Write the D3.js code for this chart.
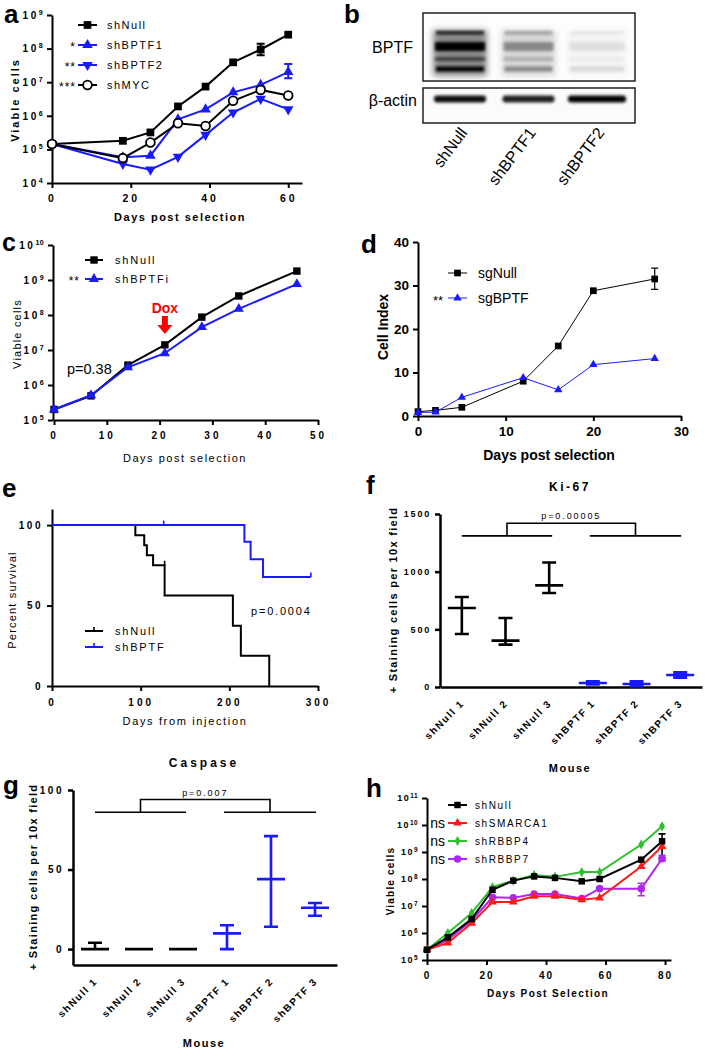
<!DOCTYPE html>
<html><head><meta charset="utf-8">
<script src="https://cdn.jsdelivr.net/npm/d3@7/dist/d3.min.js"></script>
<style>body{margin:0;background:#fff} svg{display:block}</style>
</head><body>
<svg id="fig" width="706" height="1050" font-family="'Liberation Sans', Arial, sans-serif"></svg>
<script>
// ================= DATA =================
// Panel a
const aDays = [0,18,25,32,39,46,53,60];
const aNames = ["shNull","shBPTF1","shBPTF2","shMYC"];
const aStars = ["","*","**","***"];
const aShNull  = [1.45e5,1.8e5,3.2e5,1.9e6,7.4e6,3.9e7,9.4e7,2.6e8];
const aShBPTF1 = [1.45e5,5.8e4,6.5e4,7.8e5,1.55e6,5e6,8.3e6,2.0e7];
const aShBPTF2 = [1.45e5,3.7e4,2.5e4,6e4,2.7e5,1.25e6,3.2e6,1.55e6];
const aShMYC   = [1.45e5,5.5e4,1.6e5,6e5,5e5,2.8e6,5.9e6,4e6];
const aErrNull  = [[53,6.3e7,1.4e8]];
const aErrBPTF1 = [[60,1.3e7,3.5e7]];
const aXTicks = [0,20,40,60];
const aYTicks = [1e4,1e5,1e6,1e7,1e8,1e9];
// Panel b
const bLanes = ["shNull","shBPTF1","shBPTF2"];
const bBPTFLevel = [1, 0.33, 0.07];
const bActinLevel = [0.95, 0.88, 1];
// Panel c
const cDays = [0,7,14,21,28,35,46];
const cNames = ["shNull","shBPTFi"];
const cShNull  = [2e5,4.9e5,3.7e6,1.4e7,8.7e7,3.5e8,1.8e9];
const cShBPTFi = [2e5,5.1e5,3.2e6,8.1e6,4.5e7,1.5e8,7.6e8];
const cXTicks = [0,10,20,30,40,50];
const cYTicks = [1e5,1e6,1e7,1e8,1e9,1e10];
const cDoxDay = 21;
// Panel d
const dDays = [0,2,5,12,16,20,27];
const dNames = ["sgNull","sgBPTF"];
const dSgNull = [1.0,1.3,2.0,8.0,16.1,28.8,31.5];
const dSgBPTF = [0.8,0.9,4.3,8.8,6.0,11.8,13.2];
const dErrNull = [[27,29.1,34.0]];
const dXTicks = [0,10,20,30];
const dYTicks = [0,10,20,30,40];
// Panel e
const eNames = ["shNull","shBPTF"];
const eNullT   = [0,94,104,107,114,127,204,213,245];
const eNullP   = [100,93.75,87.5,81.25,75,56.25,37.5,18.75,0];
const eNullCensor = [[127,75]];
const eBPTFT   = [0,217,224,238,292];
const eBPTFP   = [100,89.6,78.7,67.7,67.7];
const eBPTFCensor = [[126,100],[292,67.7]];
const eXTicks = [0,100,200,300];
const eYTicks = [0,50,100];
// Panel f / g
const mice = ["shNull 1","shNull 2","shNull 3","shBPTF 1","shBPTF 2","shBPTF 3"];
const fMean = [685,402,881,35,26,104];
const fHi   = [780,598,1079,49,49,127];
const fLo   = [460,367,815,23,6,81];
const fYTicks = [0,500,1000,1500];
const fBracket = [1310,1420];
const gMean = [0,0,0,9.9,44,26];
const gHi   = [4,0,0,15,71,29];
const gLo   = [0,0,0,0,14,21];
const gYTicks = [0,50,100];
const gBracket = [86,94];
// Panel h
const hDays = [0,7,15,22,29,36,43,52,58,72,79];
const hNames = ["shNull","shSMARCA1","shRBBP4","shRBBP7"];
const hShNull   = [2.4e5,6.9e5,3.3e6,4e7,8.7e7,1.25e8,1.1e8,8.2e7,1e8,5.2e8,2.5e9];
const hShSMARCA = [2.4e5,4.3e5,2.3e6,1.4e7,1.4e7,2.3e7,2.3e7,1.7e7,2e7,2.9e8,1.6e9];
const hShRBBP4  = [2.4e5,1e6,5.5e6,5e7,8.7e7,1.4e8,1.2e8,1.8e8,1.8e8,1.9e9,8.9e9];
const hShRBBP7  = [2.4e5,5.6e5,2.9e6,2.1e7,2e7,2.8e7,2.8e7,1.9e7,4.4e7,4.4e7,5.6e8];
const hErrNull  = [[79,6e8,4.7e9]];
const hErrRBBP7 = [[72,2.4e7,7e7],[79,4.6e8,7.5e8]];
const hXTicks = [0,20,40,60,80];
const hYTicks = [1e5,1e6,1e7,1e8,1e9,1e10,1e11];

// ================= HELPERS =================
const svg = d3.select("#fig");
const BLUE = "#1a1aff", RED = "#ff1a1a", GREEN = "#2ec02e", PURPLE = "#b026f0";

function txt(g, x, y, s, o = {}) {
  const t = g.append("text").attr("x", x).attr("y", y).text(s)
    .attr("font-size", o.size || 11).attr("font-weight", o.bold ? "bold" : "normal")
    .attr("letter-spacing", o.ls || 0).attr("text-anchor", o.anchor || "start")
    .attr("fill", o.fill || "#000");
  if (o.rotate) t.attr("transform", `rotate(${o.rotate},${x},${y})`);
  return t;
}
function styleAxis(a, o) {
  a.attr("font-family", null);
  a.select(".domain").attr("stroke", "#000").attr("stroke-width", o.sw || 2);
  a.selectAll(".tick line").attr("stroke", "#000").attr("stroke-width", o.sw || 2);
  a.selectAll(".tick text").attr("font-size", o.size || 10)
    .attr("font-weight", o.bold === false ? "normal" : "bold")
    .attr("letter-spacing", o.ls || 0).attr("fill", "#000");
}
function xAxis(g, scale, y, ticks, o = {}) {
  const a = g.append("g").attr("transform", `translate(0,${y})`)
    .call(d3.axisBottom(scale).tickValues(ticks).tickSize(o.ts || 5).tickSizeOuter(0).tickPadding(o.tp || 6)
      .tickFormat(d3.format("d")));
  styleAxis(a, o); return a;
}
function yAxis(g, scale, x, ticks, o = {}) {
  const a = g.append("g").attr("transform", `translate(${x},0)`)
    .call(d3.axisLeft(scale).tickValues(ticks).tickSize(o.ts || 5).tickSizeOuter(0).tickPadding(o.tp || 4)
      .tickFormat(d3.format("d")));
  styleAxis(a, o);
  if (o.log) {
    a.selectAll(".tick text").each(function (d) {
      const t = d3.select(this); t.text("10");
      t.append("tspan").attr("dy", "-0.55em").attr("font-size", o.exp || 7)
        .attr("letter-spacing", 0.4).text(Math.round(Math.log10(d)));
    });
  }
  return a;
}
const SYM = {square: d3.symbolSquare, tri: d3.symbolTriangle, tridown: d3.symbolTriangle,
  circle: d3.symbolCircle, diamond: d3.symbolDiamond};
function marker(g, x, y, o) {
  g.append("path").attr("d", d3.symbol(SYM[o.shape], o.size || 50)())
    .attr("transform", `translate(${x},${y})${o.shape === "tridown" ? " rotate(180)" : ""}`)
    .attr("fill", o.open ? "#fff" : o.color).attr("stroke", o.color).attr("stroke-width", o.open ? 1.8 : 0);
}
function series(g, xs, ys, X, Y, o) {
  const pts = xs.map((x, i) => [X(x), Y(ys[i])]);
  g.append("path").attr("d", d3.line()(pts)).attr("fill", "none")
    .attr("stroke", o.color).attr("stroke-width", o.lw || 2);
  pts.forEach(p => marker(g, p[0], p[1], o));
}
function errBars(g, errs, X, Y, o) {
  errs.forEach(([x, lo, hi]) => {
    const cx = X(x), w = o.cap || 4;
    g.append("path").attr("d", `M${cx},${Y(lo)}V${Y(hi)}M${cx - w},${Y(lo)}H${cx + w}M${cx - w},${Y(hi)}H${cx + w}`)
      .attr("stroke", o.color).attr("stroke-width", o.lw || 1.5).attr("fill", "none");
  });
}
function legendItem(g, x0, x1, y, o) {
  g.append("line").attr("x1", x0).attr("x2", x1).attr("y1", y).attr("y2", y)
    .attr("stroke", o.color).attr("stroke-width", o.lw || 2);
  if (o.shape) marker(g, (x0 + x1) / 2, y, o);
}

// ================= PANEL A =================
{
  const g = svg.append("g");
  const X = d3.scaleLinear().domain([0, 63.5]).range([52, 302]);
  const Y = d3.scaleLog().domain([1e4, 1e9]).range([183, 15]);
  xAxis(g, X, 183, aXTicks, {size: 10.5, ls: 3, tp: 7});
  yAxis(g, Y, 52, aYTicks, {size: 10, ls: 2.5, log: true, exp: 7});
  const sty = [
    {color: "#000", shape: "square", size: 60},
    {color: BLUE, shape: "tri", size: 48},
    {color: BLUE, shape: "tridown", size: 48},
    {color: "#000", shape: "circle", size: 60, open: true}];
  const vals = [aShNull, aShBPTF1, aShBPTF2, aShMYC];
  errBars(g, aErrNull, X, Y, {color: "#000", lw: 2});
  errBars(g, aErrBPTF1, X, Y, {color: BLUE, lw: 2});
  vals.forEach((v, i) => series(g, aDays, v, X, Y, sty[i]));
  aNames.forEach((n, i) => {
    const y = 25 + i * 20;
    legendItem(g, 78, 97, y, sty[i]);
    txt(g, 107, y + 4, n, {size: 11, ls: 1.5});
    if (aStars[i]) txt(g, 76, y + 6, aStars[i], {size: 12, ls: 1, anchor: "end"});
  });
  txt(g, 180, 221, "Days post selection", {size: 11, bold: true, ls: 1.5, anchor: "middle"});
  txt(g, 19, 100, "Viable cells", {size: 11, bold: true, ls: 2, anchor: "middle", rotate: -90});
  txt(g, 4, 23, "a", {size: 26, bold: true});
}

// ================= PANEL B (blot) =================
{
  const g = svg.append("g");
  const defs = svg.append("defs");
  defs.append("filter").attr("id", "bl2").attr("x", "-20%").attr("y", "-50%").attr("width", "140%").attr("height", "200%")
    .append("feGaussianBlur").attr("stdDeviation", 1.6);
  defs.append("filter").attr("id", "bl4").attr("x", "-20%").attr("y", "-50%").attr("width", "140%").attr("height", "200%")
    .append("feGaussianBlur").attr("stdDeviation", 3);
  defs.append("clipPath").attr("id", "clipTop").append("rect").attr("x", 423).attr("y", 13).attr("width", 212).attr("height", 68);
  defs.append("clipPath").attr("id", "clipAct").append("rect").attr("x", 423).attr("y", 88).attr("width", 212).attr("height", 35);
  const L = d3.scalePoint().domain(bLanes).range([460, 597]);
  g.append("rect").attr("x", 423).attr("y", 13).attr("width", 212).attr("height", 68).attr("fill", "#fdfdfd");
  g.append("rect").attr("x", 423).attr("y", 88).attr("width", 212).attr("height", 35).attr("fill", "#fbfbfb");
  const top = g.append("g").attr("clip-path", "url(#clipTop)");
  const act = g.append("g").attr("clip-path", "url(#clipAct)");
  bLanes.forEach((lane, i) => {
    const c = L(lane), lv = bBPTFLevel[i], hw = i === 2 ? 30 : 27;
    top.append("rect").attr("x", c - hw).attr("y", 30).attr("width", hw * 2).attr("height", 46)
      .attr("fill", "#000").attr("opacity", 0.45 * lv).attr("filter", "url(#bl4)");
    top.append("rect").attr("x", c - hw + 3).attr("y", 31).attr("width", hw * 2 - 6).attr("height", 3.5)
      .attr("fill", "#000").attr("opacity", Math.min(1, 0.85 * lv)).attr("filter", "url(#bl2)");
    top.append("rect").attr("x", c - hw + 2).attr("y", 42).attr("width", hw * 2 - 4).attr("height", 9)
      .attr("fill", "#000").attr("opacity", Math.min(1, 1.1 * lv)).attr("filter", "url(#bl2)");
    top.append("rect").attr("x", c - hw + 2).attr("y", 57).attr("width", hw * 2 - 4).attr("height", 4)
      .attr("fill", "#000").attr("opacity", 0.55 * lv).attr("filter", "url(#bl2)");
    top.append("rect").attr("x", c - hw + 3).attr("y", 66.5).attr("width", hw * 2 - 6).attr("height", 5)
      .attr("fill", "#000").attr("opacity", Math.min(1, 0.95 * lv + 0.05)).attr("filter", "url(#bl2)");
    act.append("rect").attr("x", c - hw + 1).attr("y", 95.5).attr("width", hw * 2 - 2).attr("height", 7)
      .attr("rx", 3).attr("fill", "#000").attr("opacity", bActinLevel[i]).attr("filter", "url(#bl2)");
    txt(g, c + 8, 133, lane, {size: 16, anchor: "end", rotate: -53});
  });
  g.append("rect").attr("x", 423).attr("y", 13).attr("width", 212).attr("height", 68)
    .attr("fill", "none").attr("stroke", "#222").attr("stroke-width", 1.5);
  g.append("rect").attr("x", 423).attr("y", 88).attr("width", 212).attr("height", 35)
    .attr("fill", "none").attr("stroke", "#222").attr("stroke-width", 1.5);
  txt(g, 413, 53, "BPTF", {size: 16, anchor: "end"});
  txt(g, 417, 106, "β-actin", {size: 16, anchor: "end"});
  txt(g, 344, 23, "b", {size: 26, bold: true});
}

// ================= PANEL C =================
{
  const g = svg.append("g");
  const X = d3.scaleLinear().domain([0, 50]).range([54, 318]);
  const Y = d3.scaleLog().domain([1e5, 1e10]).range([420, 245]);
  xAxis(g, X, 420, cXTicks, {size: 10, ls: 3, tp: 7});
  yAxis(g, Y, 53, cYTicks, {size: 10, ls: 2.5, log: true, exp: 7});
  const sty = [{color: "#000", shape: "square", size: 55}, {color: BLUE, shape: "tri", size: 45}];
  series(g, cDays, cShNull, X, Y, sty[0]);
  series(g, cDays, cShBPTFi, X, Y, sty[1]);
  cNames.forEach((n, i) => {
    const y = 260 + i * 19;
    legendItem(g, 85, 103, y, sty[i]);
    txt(g, 115, y + 4, n, {size: 11, ls: 1.8});
  });
  txt(g, 80, 285, "**", {size: 12, ls: 1, anchor: "end"});
  const ax = X(cDoxDay);
  txt(g, ax, 313, "Dox", {size: 14, bold: true, fill: "#ff0000", anchor: "middle"});
  g.append("path").attr("d", `M${ax - 3},316h6v9h4.5l-7.5,9l-7.5,-9h4.5z`).attr("fill", "#ff0000");
  txt(g, 67, 374, "p=0.38", {size: 14.5});
  txt(g, 185, 462, "Days post selection", {size: 11, ls: 1.5, anchor: "middle"});
  txt(g, 21, 334, "Viable cells", {size: 11, ls: 1.2, anchor: "middle", rotate: -90});
  txt(g, 2, 251, "c", {size: 25, bold: true});
}

// ================= PANEL D =================
{
  const g = svg.append("g");
  const X = d3.scaleLinear().domain([0, 30]).range([418, 681]);
  const Y = d3.scaleLinear().domain([0, 40]).range([416, 242]);
  xAxis(g, X, 416, dXTicks, {size: 13.5, ls: 0, tp: 5});
  yAxis(g, Y, 418, dYTicks, {size: 13.5, ls: 0, tp: 4});
  const sty = [{color: "#000", shape: "square", size: 45, lw: 1}, {color: BLUE, shape: "tri", size: 30, lw: 1}];
  errBars(g, dErrNull, X, Y, {color: "#000", lw: 1.2, cap: 3.5});
  series(g, dDays, dSgNull, X, Y, sty[0]);
  series(g, dDays, dSgBPTF, X, Y, sty[1]);
  dNames.forEach((n, i) => {
    const y = 273 + i * 25;
    legendItem(g, 448, 467, y, sty[i]);
    txt(g, 478, y + 5, n, {size: 14});
  });
  txt(g, 443, 305, "**", {size: 13, anchor: "end"});
  txt(g, 549, 460, "Days post selection", {size: 14, bold: true, anchor: "middle"});
  txt(g, 388, 327, "Cell Index", {size: 14, bold: true, anchor: "middle", rotate: -90});
  txt(g, 361, 253, "d", {size: 26, bold: true});
}

// ================= PANEL E =================
{
  const g = svg.append("g");
  const X = d3.scaleLinear().domain([0, 300]).range([52, 318]);
  const Y = d3.scaleLinear().domain([0, 110]).range([686, 509]);
  xAxis(g, X, 686, eXTicks, {size: 10, ls: 3, tp: 8});
  yAxis(g, Y, 52, eYTicks, {size: 10, ls: 2.5});
  const line = d3.line().x(d => X(d[0])).y(d => Y(d[1])).curve(d3.curveStepAfter);
  g.append("path").attr("d", line(eNullT.map((t, i) => [t, eNullP[i]])))
    .attr("fill", "none").attr("stroke", "#000").attr("stroke-width", 2);
  g.append("path").attr("d", line(eBPTFT.map((t, i) => [t, eBPTFP[i]])))
    .attr("fill", "none").attr("stroke", BLUE).attr("stroke-width", 2);
  eNullCensor.forEach(([t, p]) => g.append("line").attr("x1", X(t)).attr("x2", X(t)).attr("y1", Y(p)).attr("y2", Y(p) - 4.5)
    .attr("stroke", "#000").attr("stroke-width", 1.6));
  eBPTFCensor.forEach(([t, p]) => g.append("line").attr("x1", X(t)).attr("x2", X(t)).attr("y1", Y(p)).attr("y2", Y(p) - 4.5)
    .attr("stroke", BLUE).attr("stroke-width", 1.6));
  [["#000", 631], [BLUE, 647]].forEach(([col, y], i) => {
    legendItem(g, 85, 103, y, {color: col});
    g.append("line").attr("x1", 94).attr("x2", 94).attr("y1", y).attr("y2", y - 4).attr("stroke", col).attr("stroke-width", 1.6);
    txt(g, 115, y + 4, eNames[i], {size: 11, ls: 1.8});
  });
  txt(g, 251, 615, "p=0.0004", {size: 11, ls: 1.8});
  txt(g, 185, 725, "Days from injection", {size: 11, ls: 1.65, anchor: "middle"});
  txt(g, 16, 600, "Percent survival", {size: 11, ls: 1.2, anchor: "middle", rotate: -90});
  txt(g, 2, 497, "e", {size: 26, bold: true});
}

// ================= PANEL F / G (scatter-dot summary) =================
function dotPanel(g, cfg) {
  const X = d3.scaleBand().domain(mice).range(cfg.xr);
  const Y = d3.scaleLinear().domain(cfg.yd).range(cfg.yr);
  const ax = g.append("g").attr("transform", `translate(0,${cfg.yr[0]})`)
    .call(d3.axisBottom(X).tickSize(0).tickFormat(""));
  ax.select(".domain").attr("stroke", "#000").attr("stroke-width", 2.5);
  yAxis(g, Y, cfg.xr[0], cfg.yt, {size: cfg.ts, ls: cfg.tls, sw: 2.5, ts: 5});
  const cx = d => X(d) + X.bandwidth() / 2;
  mice.forEach((m, i) => {
    const col = i < 3 ? "#000" : BLUE, c = cx(m);
    const p = `M${c},${Y(cfg.lo[i])}V${Y(cfg.hi[i])}M${c - 7},${Y(cfg.lo[i])}H${c + 7}M${c - 7},${Y(cfg.hi[i])}H${c + 7}M${c - 14},${Y(cfg.mean[i])}H${c + 14}`;
    g.append("path").attr("d", p).attr("stroke", col).attr("stroke-width", 2.6).attr("fill", "none");
    txt(g, c + 3, cfg.yr[0] + 17, m, {size: 10, bold: true, ls: 1.5, anchor: "end", rotate: -45});
  });
  // significance bracket
  const [gy, ty] = cfg.br;
  const l0 = cx(mice[0]), l1 = cx(mice[2]) + 3, r0 = cx(mice[3]) - 3, r1 = cx(mice[5]) + 1;
  const ml = (l0 + l1) / 2, mr = (r0 + r1) / 2;
  g.append("path").attr("d", `M${l0},${Y(gy)}H${l1}M${r0},${Y(gy)}H${r1}M${ml},${Y(gy)}V${Y(ty)}H${mr}V${Y(gy)}`)
    .attr("stroke", "#000").attr("stroke-width", 1.6).attr("fill", "none");
  txt(g, (ml + mr) / 2, Y(ty) - 4, cfg.p, {size: 9, ls: 1.9, anchor: "middle"});
  return {X, Y};
}
{
  const g = svg.append("g");
  dotPanel(g, {xr: [440, 702], yd: [0, 1500], yr: [687, 514], yt: fYTicks, ts: 9, tls: 1.8,
    mean: fMean, hi: fHi, lo: fLo, br: fBracket, p: "p=0.00005"});
  txt(g, 570, 491, "Ki-67", {size: 12, bold: true, ls: 2.5, anchor: "middle"});
  txt(g, 570, 772, "Mouse", {size: 11, bold: true, ls: 1.5, anchor: "middle"});
  txt(g, 397, 600, "+ Staining cells per 10x field", {size: 11, bold: true, ls: 1.3, anchor: "middle", rotate: -90});
  txt(g, 366, 494, "f", {size: 26, bold: true});
}
{
  const g = svg.append("g");
  dotPanel(g, {xr: [73, 337], yd: [-10, 100], yr: [965, 790], yt: gYTicks, ts: 10, tls: 2.5,
    mean: gMean, hi: gHi, lo: gLo, br: gBracket, p: "p=0.007"});
  txt(g, 204, 767, "Caspase", {size: 12, bold: true, ls: 3, anchor: "middle"});
  txt(g, 204, 1047, "Mouse", {size: 11, bold: true, ls: 1.5, anchor: "middle"});
  txt(g, 37, 877, "+ Staining cells per 10x field", {size: 11, bold: true, ls: 1.3, anchor: "middle", rotate: -90});
  txt(g, 3, 794, "g", {size: 26, bold: true});
}

// ================= PANEL H =================
{
  const g = svg.append("g");
  const X = d3.scaleLinear().domain([0, 82]).range([427, 671]);
  const Y = d3.scaleLog().domain([1e5, 1e11]).range([960, 798]);
  xAxis(g, X, 960, hXTicks, {size: 10, ls: 2, tp: 7});
  yAxis(g, Y, 427, hYTicks, {size: 9, ls: 1.5, log: true, exp: 6.5});
  const sty = [
    {color: "#000", shape: "square", size: 42},
    {color: RED, shape: "tri", size: 34},
    {color: GREEN, shape: "diamond", size: 30},
    {color: PURPLE, shape: "circle", size: 45}];
  const vals = [hShNull, hShSMARCA, hShRBBP4, hShRBBP7];
  errBars(g, hErrNull, X, Y, {color: "#000", lw: 1.6, cap: 3.5});
  errBars(g, hErrRBBP7, X, Y, {color: PURPLE, lw: 1.6, cap: 3.5});
  [3, 1, 2, 0].forEach(i => series(g, hDays, vals[i], X, Y, sty[i]));
  hNames.forEach((n, i) => {
    const y = 805 + i * 18;
    legendItem(g, 448, 467, y, sty[i]);
    txt(g, 475, y + 4, n, {size: 10, ls: 1.6});
    if (i > 0) txt(g, 445, y + 5, "ns", {size: 14, anchor: "end"});
  });
  txt(g, 548, 997, "Days Post Selection", {size: 10, bold: true, ls: 1.4, anchor: "middle"});
  txt(g, 394, 881, "Viable cells", {size: 10, bold: true, ls: 1.2, anchor: "middle", rotate: -90});
  txt(g, 366, 797, "h", {size: 26, bold: true});
}
</script>
</body></html>
